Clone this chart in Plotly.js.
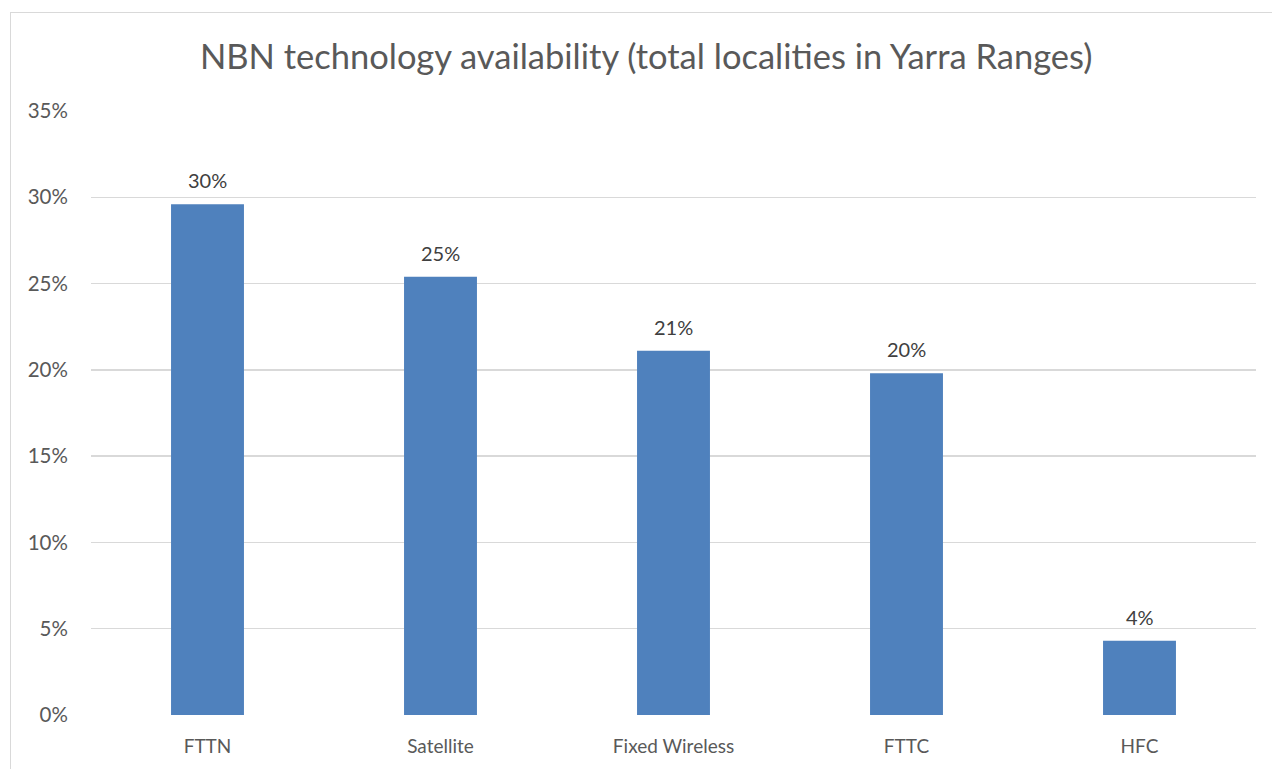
<!DOCTYPE html>
<html>
<head>
<meta charset="utf-8">
<script src="https://cdn.plot.ly/plotly-3.0.1.min.js"></script>
<style>
  html, body { margin: 0; padding: 0; background: #fff; }
  #wrap { position: relative; width: 1272px; height: 769px; overflow: hidden; }
  #chart { position: absolute; left: 0; top: 0; width: 1272px; height: 769px; }
  #frame { position: absolute; left: 10px; top: 12px; width: 1300px; height: 800px;
           border: 1px solid #d9d9d9; pointer-events: none; }
</style>
</head>
<body>
<div id="wrap">
  <div id="chart"></div>
  <div id="frame"></div>
</div>
<script>
const categories = ["FTTN", "Satellite", "Fixed Wireless", "FTTC", "HFC"];
const values = [29.6, 25.4, 21.1, 19.8, 4.3];
const yTicks = [0, 5, 10, 15, 20, 25, 30, 35];

const FONT = 'Lato, Carlito, sans-serif';

const trace = {
  type: 'bar',
  x: categories,
  y: values,
  marker: { color: '#4f81bd' },
  hoverinfo: 'none'
};

const annotations = categories.map((c, i) => ({
  x: c,
  y: values[i],
  xref: 'x',
  yref: 'y',
  text: Math.round(values[i]) + '%',
  showarrow: false,
  yanchor: 'bottom',
  yshift: 10,
  font: { family: FONT, size: 20, color: '#404040' }
}));

const layout = {
  width: 1272,
  height: 769,
  paper_bgcolor: 'rgba(0,0,0,0)',
  plot_bgcolor: 'rgba(0,0,0,0)',
  margin: { l: 91, r: 16, t: 111, b: 54 },
  bargap: 0.687,
  showlegend: false,
  font: { family: FONT, color: '#595959' },
  title: {
    text: 'NBN technology availability (total localities in Yarra Ranges)',
    font: { family: FONT, size: 34.5, color: '#595959' },
    x: 0.508, xanchor: 'center',
    y: 0.926, yanchor: 'middle'
  },
  annotations: annotations,
  xaxis: {
    type: 'category',
    showgrid: false,
    showline: false,
    zeroline: false,
    ticks: 'outside',
    ticklen: 14,
    tickcolor: 'rgba(0,0,0,0)',
    tickfont: { family: FONT, size: 19, color: '#595959' }
  },
  yaxis: {
    range: [0, 35],
    tickvals: yTicks,
    ticktext: yTicks.map(v => v + '%'),
    showgrid: true,
    gridcolor: '#d9d9d9',
    gridwidth: 1.5,
    zeroline: false,
    showline: false,
    ticks: 'outside',
    ticklen: 18,
    tickcolor: 'rgba(0,0,0,0)',
    tickfont: { family: FONT, size: 20.5, color: '#595959' }
  }
};

Plotly.newPlot('chart', [trace], layout, { staticPlot: true, displayModeBar: false });
</script>
</body>
</html>
